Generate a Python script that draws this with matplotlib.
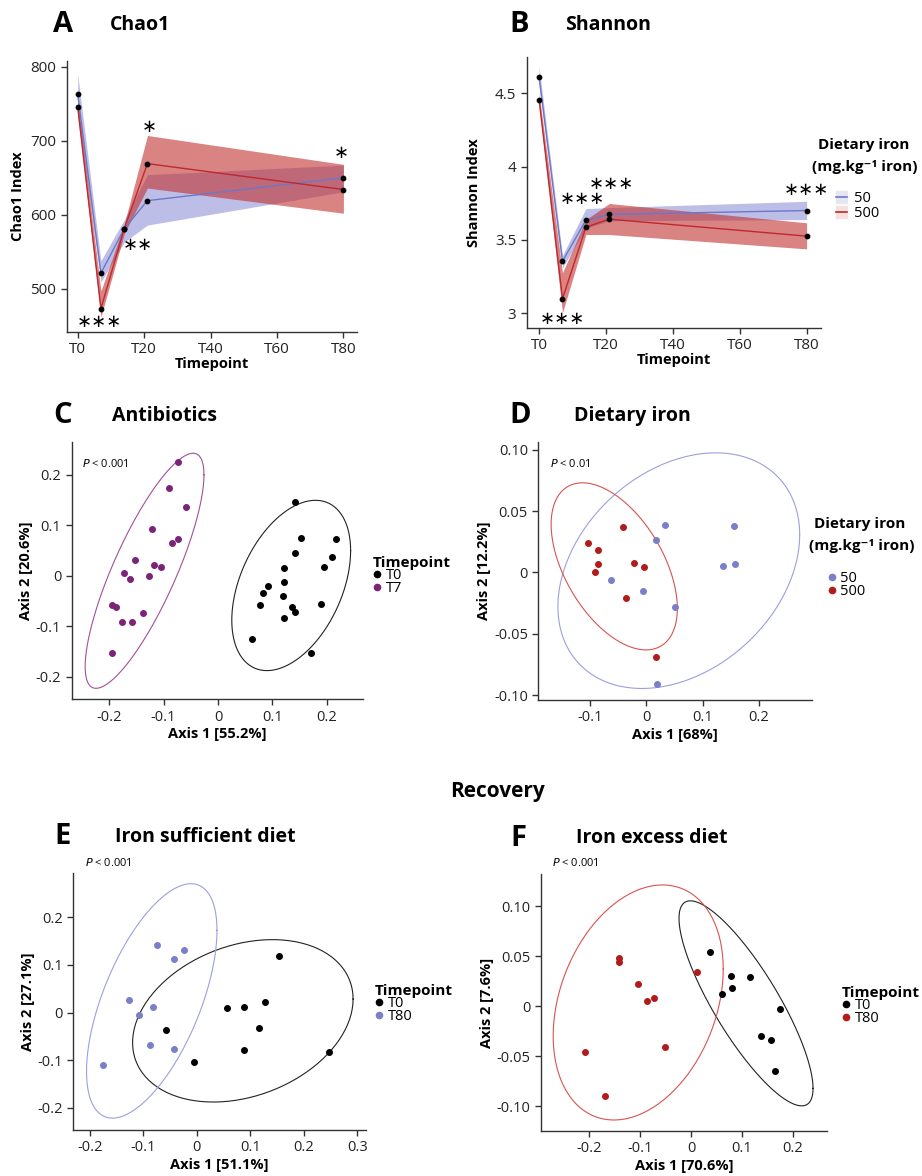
import numpy as np
import matplotlib
matplotlib.use("Agg")
import matplotlib.pyplot as plt
from matplotlib.lines import Line2D
from matplotlib.patches import Patch

plt.rcParams['font.family'] = ['Open Sans', 'DejaVu Sans']

# ---- alpha diversity (A, B) ----
days = [0, 7, 14, 21, 80]
day_labels = ["T0", "T20", "T40", "T60", "T80"]
day_ticks = [0, 20, 40, 60, 80]

chao_50 = [763, 521, 581, 619, 650]
chao_50_lo = [738, 509, 563, 586, 631]
chao_50_hi = [790, 538, 593, 654, 667]
chao_500 = [746, 473, 581, 669, 634]
chao_500_lo = [736, 462, 574, 636, 602]
chao_500_hi = [757, 497, 587, 707, 668]

shan_50 = [4.61, 3.354, 3.634, 3.673, 3.70]
shan_50_lo = [4.56, 3.31, 3.58, 3.63, 3.638]
shan_50_hi = [4.68, 3.393, 3.713, 3.72, 3.763]
shan_500 = [4.457, 3.097, 3.586, 3.641, 3.525]
shan_500_lo = [4.42, 3.002, 3.536, 3.536, 3.438]
shan_500_hi = [4.50, 3.275, 3.638, 3.748, 3.616]

# ---- PCoA (C) antibiotics ----
c_t0_x = [0.142, 0.152, 0.216, 0.142, 0.210, 0.194, 0.121, 0.121, 0.091,
          0.083, 0.119, 0.077, 0.190, 0.136, 0.141, 0.121, 0.063, 0.171]
c_t0_y = [0.146, 0.074, 0.072, 0.045, 0.038, 0.017, 0.015, -0.013, -0.021,
          -0.034, -0.040, -0.058, -0.055, -0.062, -0.072, -0.083, -0.125, -0.154]
c_t7_x = [-0.074, -0.091, -0.059, -0.121, -0.085, -0.074, -0.153, -0.118, -0.105,
          -0.173, -0.127, -0.162, -0.194, -0.188, -0.138, -0.176, -0.159, -0.194]
c_t7_y = [0.225, 0.174, 0.137, 0.092, 0.066, 0.072, 0.032, 0.021, 0.017,
          0.005, -0.001, -0.006, -0.058, -0.062, -0.073, -0.092, -0.092, -0.153]

# ---- PCoA (D) dietary iron ----
d_50_x = [0.034, 0.155, 0.017, 0.137, 0.157, -0.062, -0.005, 0.051, 0.019]
d_50_y = [0.039, 0.038, 0.026, 0.005, 0.007, -0.006, -0.015, -0.028, -0.091]
d_500_x = [-0.041, -0.104, -0.085, -0.022, -0.004, -0.086, -0.091, -0.036, 0.017]
d_500_y = [0.037, 0.024, 0.018, 0.008, 0.004, 0.007, 0.000, -0.021, -0.069]

# ---- PCoA (E) iron sufficient ----
e_t0_x = [0.153, 0.127, 0.057, 0.088, -0.058, 0.117, 0.089, -0.005, 0.247]
e_t0_y = [0.118, 0.022, 0.010, 0.011, -0.036, -0.032, -0.079, -0.105, -0.084]
e_t80_x = [-0.074, -0.024, -0.042, -0.127, -0.081, -0.109, -0.087, -0.043, -0.176]
e_t80_y = [0.142, 0.132, 0.113, 0.027, 0.011, -0.006, -0.069, -0.076, -0.110]

# ---- PCoA (F) iron excess ----
f_t0_x = [0.038, 0.079, 0.115, 0.081, 0.060, 0.174, 0.137, 0.156, 0.165]
f_t0_y = [0.054, 0.030, 0.029, 0.018, 0.012, -0.003, -0.030, -0.034, -0.065]
f_t80_x = [-0.142, -0.142, -0.105, -0.073, -0.086, 0.012, -0.052, -0.208, -0.170]
f_t80_y = [0.048, 0.044, 0.022, 0.008, 0.005, 0.034, -0.041, -0.046, -0.090]

BLUE_FILL = '#7d7fd0'
BLUE_LINE = '#6b78c8'
RED_FILL = '#c0302f'
RED_LINE = '#c0282d'
BLUE_PT = '#7a80c8'
RED_PT = '#b01c1c'
PURPLE_PT = '#7a2577'
AXC = '#333333'
IRON_TITLE = 'Dietary iron'
IRON_UNIT = '(mg.kg\u207b\u00b9 iron)'

W, H = 922, 1176
fig = plt.figure(figsize=(W / 100, H / 100), dpi=100)


def px_axes(x0, y0, x1, y1):
    return fig.add_axes([x0 / W, 1 - y1 / H, (x1 - x0) / W, (y1 - y0) / H])


def style(ax, fs=10):
    for s in ['top', 'right']:
        ax.spines[s].set_visible(False)
    for s in ['left', 'bottom']:
        ax.spines[s].set_color(AXC)
        ax.spines[s].set_linewidth(1.0)
    ax.tick_params(colors=AXC, labelcolor='#222222', labelsize=fs, length=4, width=1)


def cov_trob(pts, nu=5, maxit=25, tol=0.01):
    n, p = pts.shape
    loc = pts.mean(0)
    w = np.ones(n)
    for _ in range(maxit):
        w0 = w
        X = pts - loc
        _, d, vt = np.linalg.svd(np.sqrt(w / w.sum())[:, None] * X, full_matrices=False)
        wX = X @ vt.T @ np.diag(1 / d)
        Q = (wX ** 2).sum(1)
        w = (nu + p) / (nu + Q)
        loc = (w[:, None] * pts).sum(0) / w.sum()
        if np.all(np.abs(w - w0) < tol):
            break
    cov = (np.sqrt(w)[:, None] * X).T @ (np.sqrt(w)[:, None] * X) / n
    return loc, cov


def ellipse(ax, x, y, color, level=0.95):
    # same recipe as ggplot2 stat_ellipse (type = "t")
    pts = np.column_stack([x, y])
    loc, cov = cov_trob(pts)
    dfd = len(x) - 1
    qf = dfd / 2 * ((1 - level) ** (-2 / dfd) - 1)
    r = np.sqrt(2 * qf)
    L = np.linalg.cholesky(cov)
    t = np.linspace(0, 2 * np.pi, 200)
    e = loc[:, None] + r * L @ np.vstack([np.cos(t), np.sin(t)])
    ax.plot(e[0], e[1], color=color, lw=0.8, clip_on=False)


def panel_head(x, y, letter, tx, title):
    fig.text(x / W, 1 - y / H, letter, fontsize=21, fontweight='bold', va='center', ha='left')
    fig.text(tx / W, 1 - y / H, title, fontsize=14, fontweight='bold', va='center', ha='left')


def stars(ax, x, y, s):
    ax.text(x, y, s, fontsize=13, ha='center', va='center', family=['DejaVu Sans'])


# ---- A: Chao1 ----
axA = px_axes(66.7, 60.7, 356.7, 331.7)
axA.fill_between(days, chao_50_lo, chao_50_hi, color=BLUE_FILL, alpha=0.5, lw=0)
axA.fill_between(days, chao_500_lo, chao_500_hi, color=RED_FILL, alpha=0.6, lw=0)
axA.plot(days, chao_50, color=BLUE_LINE, lw=1)
axA.plot(days, chao_500, color=RED_LINE, lw=1)
axA.scatter(days + days, chao_50 + chao_500, s=10, color='black', zorder=5)
axA.set_xlim(-3.3, 84)
axA.set_ylim(442, 808)
axA.set_xticks(day_ticks, day_labels)
axA.set_yticks([500, 600, 700, 800])
style(axA, 11)
axA.set_xlabel('Timepoint', fontsize=10.5, fontweight='bold', labelpad=0)
axA.set_ylabel('Chao1 Index', fontsize=10.5, fontweight='bold', labelpad=4)
stars(axA, 6.7, 455, '∗∗∗')
stars(axA, 18.2, 559, '∗∗')
stars(axA, 21.5, 719, '∗')
stars(axA, 79.3, 683, '∗')
panel_head(53, 25, 'A', 110, 'Chao1')

# ---- B: Shannon ----
axB = px_axes(526.7, 56.7, 821, 327.7)
axB.fill_between(days, shan_50_lo, shan_50_hi, color=BLUE_FILL, alpha=0.5, lw=0)
axB.fill_between(days, shan_500_lo, shan_500_hi, color=RED_FILL, alpha=0.6, lw=0)
axB.plot(days, shan_50, color=BLUE_LINE, lw=1)
axB.plot(days, shan_500, color=RED_LINE, lw=1)
axB.scatter(days + days, shan_50 + shan_500, s=10, color='black', zorder=5)
axB.set_xlim(-3.7, 84.3)
axB.set_ylim(2.90, 4.75)
axB.set_xticks(day_ticks, day_labels)
axB.set_yticks([3, 3.5, 4, 4.5], ['3', '3.5', '4', '4.5'])
style(axB, 11)
axB.set_xlabel('Timepoint', fontsize=10.5, fontweight='bold', labelpad=0)
axB.set_ylabel('Shannon Index', fontsize=10.5, fontweight='bold', labelpad=10)
stars(axB, 6.9, 2.956, '∗∗∗')
stars(axB, 12.9, 3.78, '∗∗∗')
stars(axB, 21.6, 3.884, '∗∗∗')
stars(axB, 79.8, 3.843, '∗∗∗')
panel_head(509, 25, 'B', 565, 'Shannon')
hB = [(Patch(color='#e6e6f3'), Line2D([], [], color=BLUE_LINE, lw=1.2)),
      (Patch(color='#f6e0e0'), Line2D([], [], color=RED_LINE, lw=1.2))]
fig.legend(hB, ['50', '500'], loc='upper left', bbox_to_anchor=(829 / W, 1 - 184 / H),
           frameon=False, fontsize=10.5, handlelength=0.7, handleheight=0.9,
           handletextpad=0.5, labelspacing=0.0, borderpad=0)
fig.text(864 / W, 1 - 145 / H, IRON_TITLE, fontsize=11, fontweight='bold', ha='center', va='center')
fig.text(865 / W, 1 - 167 / H, IRON_UNIT, fontsize=11, fontweight='bold', ha='center', va='center')


def pcoa(ax, xlim, ylim, xticks, yticks, ytl, xl, yl):
    ax.set_xlim(*xlim)
    ax.set_ylim(*ylim)
    ax.set_xticks(xticks, [('%g' % v) for v in xticks])
    ax.set_yticks(yticks, ytl)
    style(ax, 10.5)
    ax.set_xlabel(xl, fontsize=10.5, fontweight='bold', labelpad=2)
    ax.set_ylabel(yl, fontsize=10.5, fontweight='bold', labelpad=2)


def ptext(x, y, s):
    fig.text(x / W, 1 - y / H, '$P$ < ' + s, fontsize=8, ha='left', va='center')


def pt_legend(x, y, labels, colors, title=None):
    hs = [Line2D([], [], marker='o', ls='none', color=c, markersize=4.5) for c in colors]
    kw = {}
    if title:
        kw = dict(title=title, title_fontproperties={'weight': 'bold', 'size': 11})
    leg = fig.legend(hs, labels, loc='upper left', bbox_to_anchor=(x / W, 1 - y / H),
                     frameon=False, fontsize=10.5, handlelength=0.6, handletextpad=0.3,
                     labelspacing=-0.15, borderpad=0, **kw)
    leg._legend_box.align = 'left'
    return leg


# ---- C: Antibiotics ----
axC = px_axes(71.7, 441.7, 362.7, 699.3)
axC.scatter(c_t0_x, c_t0_y, s=16, color='black', zorder=4)
axC.scatter(c_t7_x, c_t7_y, s=16, color=PURPLE_PT, zorder=4)
ellipse(axC, c_t0_x, c_t0_y, '#222222')
ellipse(axC, c_t7_x, c_t7_y, '#a0509b')
pcoa(axC, (-0.269, 0.266), (-0.245, 0.266), [-0.2, -0.1, 0, 0.1, 0.2],
     [-0.2, -0.1, 0, 0.1, 0.2], ['-0.2', '-0.1', '0', '0.1', '0.2'],
     'Axis 1 [55.2%]', 'Axis 2 [20.6%]')
ptext(82, 464, '0.001')
panel_head(53, 416, 'C', 112, 'Antibiotics')
pt_legend(365, 549, ['T0', 'T7'], ['black', PURPLE_PT], 'Timepoint')

# ---- D: Dietary iron ----
axD = px_axes(538.3, 442.3, 811.7, 700)
axD.scatter(d_50_x, d_50_y, s=16, color=BLUE_PT, zorder=4)
axD.scatter(d_500_x, d_500_y, s=16, color=RED_PT, zorder=4)
ellipse(axD, d_50_x, d_50_y, '#9c9fe0')
ellipse(axD, d_500_x, d_500_y, '#d9534f')
pcoa(axD, (-0.192, 0.294), (-0.104, 0.106), [-0.1, 0, 0.1, 0.2],
     [-0.10, -0.05, 0, 0.05, 0.10], ['-0.10', '-0.05', '0', '0.05', '0.10'],
     'Axis 1 [68%]', 'Axis 2 [12.2%]')
ptext(550, 464, '0.01')
panel_head(509, 416, 'D', 574, 'Dietary iron')
fig.text(860 / W, 1 - 524 / H, IRON_TITLE, fontsize=11, fontweight='bold', ha='center', va='center')
fig.text(862 / W, 1 - 546 / H, IRON_UNIT, fontsize=11, fontweight='bold', ha='center', va='center')
pt_legend(820, 564, ['50', '500'], [BLUE_PT, RED_PT])

fig.text(497 / W, 1 - 792 / H, 'Recovery', fontsize=15, fontweight='bold', ha='center', va='center')

# ---- E: Iron sufficient diet ----
axE = px_axes(73.3, 872.7, 365.7, 1130)
axE.scatter(e_t0_x, e_t0_y, s=16, color='black', zorder=4)
axE.scatter(e_t80_x, e_t80_y, s=16, color=BLUE_PT, zorder=4)
ellipse(axE, e_t0_x, e_t0_y, '#222222')
ellipse(axE, e_t80_x, e_t80_y, '#9c9fe0')
pcoa(axE, (-0.231, 0.316), (-0.247, 0.294), [-0.2, -0.1, 0, 0.1, 0.2, 0.3],
     [-0.2, -0.1, 0, 0.1, 0.2], ['-0.2', '-0.1', '0', '0.1', '0.2'],
     'Axis 1 [51.1%]', 'Axis 2 [27.1%]')
ptext(85, 863, '0.001')
panel_head(54, 837, 'E', 115, 'Iron sufficient diet')
pt_legend(367, 977, ['T0', 'T80'], ['black', BLUE_PT], 'Timepoint')

# ---- F: Iron excess diet ----
axF = px_axes(541, 874, 827, 1131)
axF.scatter(f_t0_x, f_t0_y, s=16, color='black', zorder=4)
axF.scatter(f_t80_x, f_t80_y, s=16, color=RED_PT, zorder=4)
ellipse(axF, f_t0_x, f_t0_y, '#222222')
ellipse(axF, f_t80_x, f_t80_y, '#d9534f')
pcoa(axF, (-0.295, 0.267), (-0.125, 0.132), [-0.2, -0.1, 0, 0.1, 0.2],
     [-0.10, -0.05, 0, 0.05, 0.10], ['-0.10', '-0.05', '0', '0.05', '0.10'],
     'Axis 1 [70.6%]', 'Axis 2 [7.6%]')
ptext(552, 863, '0.001')
panel_head(510, 838, 'F', 576, 'Iron excess diet')
pt_legend(834, 979, ['T0', 'T80'], ['black', RED_PT], 'Timepoint')

fig.savefig('out.png', dpi=100)
